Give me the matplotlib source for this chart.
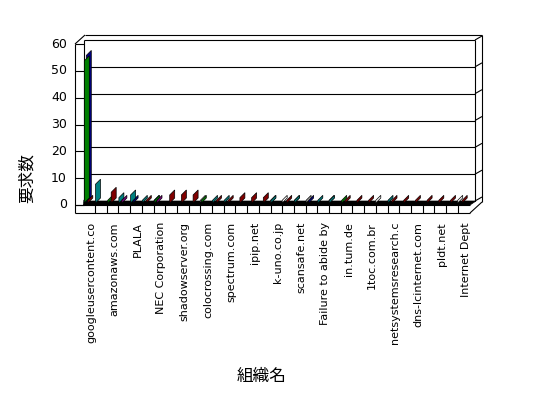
import matplotlib
matplotlib.use("Agg")
import matplotlib.pyplot as plt
from matplotlib.patches import Polygon

# categories (only every other one is labelled in the chart)
orgs = ['googleusercontent.co', '', 'amazonaws.com', '', 'PLALA', '',
        'NEC Corporation', '', 'shadowserver.org', '', 'colocrossing.com', '',
        'spectrum.com', '', 'ipip.net', '', 'k-uno.co.jp', '', 'scansafe.net', '',
        'Failure to abide by', '', 'in.tum.de', '', '1toc.com.br', '',
        'netsystemsresearch.c', '', 'dns-lcinternet.com', '', 'pldt.net', '',
        'Internet Dept']

# request counts per series
navy   = [55, 0, 0, 0, 1, 0, 0, 0, 0, 0, 0, 0, 0, 0, 0, 0, 0, 0, 0, 1, 0, 0, 0, 0, 0, 0, 0, 0, 0, 0, 0, 0, 0]
white  = [0, 0, 0, 0, 0, 0, 0, 0, 0, 0, 1, 0, 0, 0, 0, 0, 1, 1, 0, 0, 0, 1, 0, 0, 0, 1, 0, 0, 0, 0, 0, 0, 1]
olive  = [0, 0, 0, 0, 0, 0, 0, 0, 0, 0, 0, 0, 0, 0, 0, 0, 0, 0, 1, 0, 0, 0, 0, 0, 0, 0, 0, 0, 0, 0, 0, 0, 0]
gray   = [0, 0, 0, 0, 0, 0, 0, 0, 0, 0, 0, 0, 0, 0, 0, 0, 0, 0, 0, 1, 0, 0, 0, 0, 0, 0, 0, 0, 0, 0, 0, 0, 0]
teal   = [1, 7, 0, 2, 3, 1, 1, 0, 0, 0, 0, 1, 1, 0, 0, 0, 1, 0, 1, 0, 1, 1, 0, 0, 0, 0, 1, 0, 0, 0, 0, 0, 0]
green  = [53, 0, 1, 0, 0, 0, 1, 0, 0, 0, 1, 0, 0, 0, 0, 0, 0, 0, 0, 0, 0, 0, 1, 0, 0, 0, 0, 0, 0, 0, 0, 0, 0]
purple = [0, 0, 0, 1, 0, 0, 1, 0, 0, 0, 0, 0, 0, 0, 0, 0, 0, 0, 0, 0, 0, 0, 0, 0, 0, 0, 0, 0, 0, 0, 0, 0, 0]
red    = [1, 0, 4, 0, 0, 1, 0, 3, 3, 3, 0, 1, 1, 2, 2, 2, 0, 1, 0, 0, 0, 0, 1, 1, 1, 0, 1, 1, 1, 1, 1, 1, 1]

series = [
    (navy, '#000080', 3.0),
    (white, '#ffffff', 0.0),
    (olive, '#808000', 0.5),
    (gray, '#a0a0a0', 0.5),
    (teal, '#008080', 0.5),
    (green, '#008000', 1.0),
    (purple, '#800080', 3.5),
    (red, '#800000', 4.5),
]
yticks = [0, 10, 20, 30, 40, 50, 60]

W, H = 548, 398
CELL = 11.7          # px per category
UNIT = 161 / 60      # px per count


def dx(p):
    return p / CELL


def dy(p):
    return p / UNIT


fig = plt.figure(figsize=(W / 100, H / 100), dpi=100)
ax = fig.add_axes([75 / W, (H - 205) / H, 395 / W, 161 / H])
L = -0.5 - dx(8.3)
R = -0.5 + dx(470 - 83.3)
ax.set_xlim(L, R)
ax.set_ylim(0, 60)
ax.axis('off')

line = dict(color='black', lw=0.8, clip_on=False, solid_capstyle='butt')
bot = -dy(8)

# outer box
ax.plot([L, L], [bot, 60], **line)
ax.plot([L, L + dx(10)], [60, 60 + dy(9)], **line)
ax.plot([L + dx(10), R + dx(12)], [60 + dy(9), 60 + dy(9)], **line)
ax.plot([R + dx(12), R + dx(12)], [bot + dy(11), 60 + dy(9)], **line)
ax.plot([R, R + dx(12)], [bot, bot + dy(11)], **line)
ax.plot([L, R], [bot, bot], **line)
ax.plot([L, R], [0, 0], **line)

# floor cells
for k in range(len(orgs) - 1):
    ax.plot([k + 0.5, k + 0.5], [bot, 0], **line)
ax.add_patch(Polygon([(-0.5, 0), (R, 0), (R + dx(6), dy(4)), (-0.5 + dx(1), dy(4))],
                     closed=True, facecolor='black', edgecolor='black', lw=0.5, clip_on=False))

# back wall and left wall grid
xin_l = -0.5 + dx(0.7)
xin_r = R + dx(5)
ax.plot([xin_l, xin_l], [dy(4), 60 + dy(4)], **line)
ax.plot([xin_r, xin_r], [dy(4), 60 + dy(4)], **line)
for v in yticks:
    if v > 0:
        ax.plot([xin_l, xin_r], [v + dy(4), v + dy(4)], **line)
    ax.plot([xin_r, R + dx(12)], [v + dy(4), v + dy(8)], **line)
    ax.plot([L, xin_l], [v, v], **line)
    ax.text(L - dx(8), v, str(v), ha='right', va='center', fontsize=9)

# bars
for vals, col, off in series:
    for k, v in enumerate(vals):
        if v <= 0:
            continue
        x0 = k - 0.5 + dx(off)
        b = dy(2)
        pts = [(x0, b), (x0, b + v), (x0 + dx(5), b + v + dy(5)), (x0 + dx(5), b + dy(5))]
        ax.add_patch(Polygon(pts, closed=True, facecolor=col, edgecolor='black',
                             lw=0.5, clip_on=False, zorder=3))

# category labels
for k, name in enumerate(orgs):
    if name:
        ax.text(k + dx(2), -dy(17), name, rotation=90, ha='center', va='top', fontsize=8)

fig.text(27 / W, 1 - 178 / H, '要求数', rotation=90, ha='center', va='center',
         fontsize=12, family=['Noto Sans CJK JP', 'DejaVu Sans'])
fig.text(262 / W, 1 - 376 / H, '組織名', ha='center', va='center',
         fontsize=12, family=['Noto Sans CJK JP', 'DejaVu Sans'])

fig.savefig('out.png', dpi=100)
